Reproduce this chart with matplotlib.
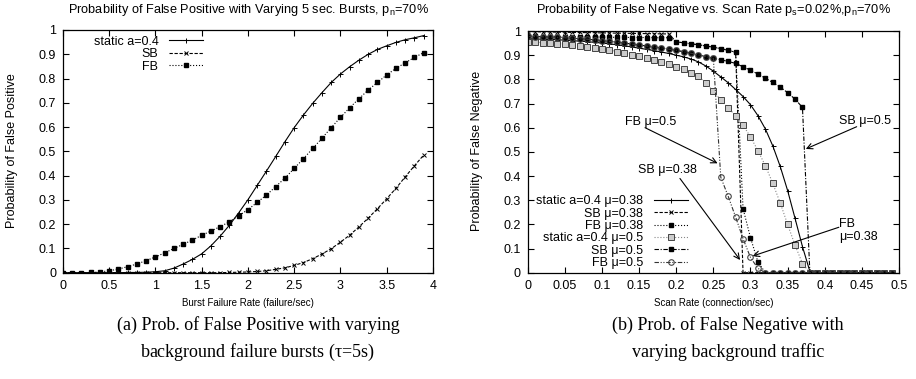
import numpy as np
import matplotlib
matplotlib.use('Agg')
import matplotlib.pyplot as plt
from matplotlib.ticker import MultipleLocator, FormatStrFormatter

plt.rcParams['font.family'] = ['Liberation Sans', 'DejaVu Sans']
plt.rcParams['mathtext.default'] = 'regular'

# (a) false positive vs burst failure rate
burst_rate = np.round(np.arange(0, 4.0, 0.1), 1)
fp_static = [0, 0, 0, 0, 0, 0, 0, 0.001, 0.001, 0.002,
             0.004, 0.008, 0.019, 0.036, 0.055, 0.078, 0.111, 0.151, 0.196, 0.247,
             0.301, 0.36, 0.419, 0.479, 0.54, 0.598, 0.65, 0.698, 0.742, 0.784,
             0.819, 0.849, 0.876, 0.9, 0.92, 0.935, 0.949, 0.96, 0.968, 0.977]
fp_sb = [0, 0, 0, 0, 0, 0, 0, 0, 0, 0,
         0, 0, 0, 0, 0, 0, 0, 0, 0.001, 0.002,
         0.003, 0.005, 0.008, 0.014, 0.02, 0.03, 0.042, 0.058, 0.077, 0.099,
         0.126, 0.155, 0.189, 0.225, 0.264, 0.305, 0.348, 0.395, 0.441, 0.485]
fp_fb = [0, 0, 0, 0.001, 0.003, 0.008, 0.015, 0.025, 0.036, 0.05,
         0.065, 0.082, 0.1, 0.117, 0.135, 0.154, 0.172, 0.19, 0.21, 0.235,
         0.26, 0.29, 0.32, 0.355, 0.39, 0.43, 0.47, 0.512, 0.554, 0.598,
         0.64, 0.68, 0.717, 0.753, 0.784, 0.815, 0.842, 0.865, 0.887, 0.907]

# (b) false negative vs scan rate
scan_rate = np.round(np.arange(0, 0.5, 0.01), 2)
fn_static_38 = [0.968, 0.967, 0.966, 0.965, 0.964, 0.962, 0.96, 0.958, 0.956, 0.953,
                0.95, 0.947, 0.943, 0.939, 0.934, 0.929, 0.924, 0.919, 0.913, 0.907,
                0.9, 0.893, 0.884, 0.872, 0.855, 0.834, 0.81, 0.786, 0.758, 0.729,
                0.695, 0.65, 0.595, 0.525, 0.44, 0.34, 0.225, 0.108, 0.005, 0,
                0, 0, 0, 0, 0, 0, 0, 0, 0, 0]
fn_sb_38 = [0.997, 0.997, 0.996, 0.996, 0.995, 0.995, 0.994, 0.994, 0.993, 0.993,
            0.992, 0.992, 0.991, 0.991, 0.99, 0.99, 0.989, 0.989, 0.988, 0.988,
            0.955, 0.951, 0.947, 0.943, 0.938, 0.933, 0.927, 0.92, 0.912, 0,
            0, 0, 0, 0, 0, 0, 0, 0, 0, 0,
            0, 0, 0, 0, 0, 0, 0, 0, 0, 0]
fn_fb_38 = [0.978, 0.978, 0.977, 0.977, 0.977, 0.976, 0.976, 0.976, 0.975, 0.975,
            0.975, 0.974, 0.974, 0.974, 0.973, 0.973, 0.973, 0.972, 0.972, 0.972,
            0.955, 0.951, 0.947, 0.943, 0.938, 0.933, 0.927, 0.92, 0.912, 0.265,
            0.145, 0.045, 0, 0, 0, 0, 0, 0, 0, 0,
            0, 0, 0, 0, 0, 0, 0, 0, 0, 0]
fn_static_5 = [0.955, 0.954, 0.952, 0.95, 0.948, 0.945, 0.942, 0.939, 0.935, 0.931,
               0.926, 0.921, 0.915, 0.909, 0.902, 0.895, 0.888, 0.88, 0.871, 0.862,
               0.852, 0.841, 0.828, 0.812, 0.785, 0.75, 0.715, 0.682, 0.65, 0.61,
               0.562, 0.505, 0.443, 0.37, 0.289, 0.2, 0.114, 0.038, 0, 0,
               0, 0, 0, 0, 0, 0, 0, 0, 0, 0]
fn_sb_5 = [0.978, 0.977, 0.976, 0.975, 0.974, 0.972, 0.97, 0.968, 0.966, 0.963,
           0.96, 0.957, 0.954, 0.95, 0.946, 0.942, 0.938, 0.934, 0.93, 0.925,
           0.92, 0.914, 0.908, 0.901, 0.894, 0.887, 0.881, 0.874, 0.866, 0.852,
           0.838, 0.822, 0.805, 0.787, 0.768, 0.745, 0.718, 0.684, 0, 0,
           0, 0, 0, 0, 0, 0, 0, 0, 0, 0]
fn_fb_5 = [0.978, 0.977, 0.976, 0.975, 0.974, 0.972, 0.97, 0.968, 0.966, 0.963,
           0.96, 0.957, 0.954, 0.95, 0.946, 0.942, 0.938, 0.934, 0.93, 0.925,
           0.92, 0.914, 0.908, 0.901, 0.894, 0.887, 0.395, 0.316, 0.23, 0.141,
           0.063, 0.018, 0, 0, 0, 0, 0, 0, 0, 0,
           0, 0, 0, 0, 0, 0, 0, 0, 0, 0]

fig = plt.figure(figsize=(9.16, 3.79), dpi=100)
W, H = 916.0, 379.0
ax1 = fig.add_axes([63 / W, 1 - 272.7 / H, 370 / W, 242.7 / H])
ax2 = fig.add_axes([527.7 / W, 1 - 272.7 / H, 371.3 / W, 241.7 / H])

fs = 9
lw = 0.8
ax1.plot(burst_rate, fp_static, '-', color='black', lw=lw, marker='+', ms=3.6, mew=0.7,
         label='static a=0.4')
ax1.plot(burst_rate, fp_sb, '--', color='black', lw=lw, dashes=(3, 1.5), marker='x', ms=3.2,
         mew=0.7, label='SB')
ax1.plot(burst_rate, fp_fb, ':', color='black', lw=lw, marker='s', ms=2.6, label='FB')

ax2.plot(scan_rate, fn_static_38, '-', color='black', lw=lw, marker='+', ms=3.6, mew=0.7,
         label='static a=0.4 \u03bc=0.38')
ax2.plot(scan_rate, fn_sb_38, '--', color='black', lw=lw, dashes=(3, 1.5), marker='x',
         ms=3.2, mew=0.7, label='SB \u03bc=0.38')
ax2.plot(scan_rate, fn_fb_38, ':', color='black', lw=lw, marker='s', ms=2.6,
         label='FB \u03bc=0.38')
ax2.plot(scan_rate, fn_static_5, ':', color='#888888', lw=lw, marker='s', ms=4,
         mfc='#cccccc', mec='#444444', mew=0.7, label='static a=0.4 \u03bc=0.5')
ax2.plot(scan_rate, fn_sb_5, '-.', color='black', lw=lw, dashes=(4, 1.5, 1, 1.5),
         marker='s', ms=3.2, label='SB \u03bc=0.5')
ax2.plot(scan_rate, fn_fb_5, '-', color='#333333', lw=lw, dashes=(4, 1.5, 1, 1.5, 1, 1.5),
         marker='o', ms=4, mfc='none', mec='#444444', mew=0.8, label='FB \u03bc=0.5')

for ax, xmax, xstep in ((ax1, 4, 0.5), (ax2, 0.5, 0.05)):
    ax.set_xlim(0, xmax)
    ax.set_ylim(0, 1)
    ax.xaxis.set_major_locator(MultipleLocator(xstep))
    ax.yaxis.set_major_locator(MultipleLocator(0.1))
    ax.xaxis.set_major_formatter(FormatStrFormatter('%g'))
    ax.yaxis.set_major_formatter(FormatStrFormatter('%g'))
    ax.tick_params(direction='in', top=True, right=True, length=4, width=0.8,
                   labelsize=fs, colors='black')
    ax.tick_params(axis='x', pad=5)
    ax.tick_params(axis='y', pad=5)
    for s in ax.spines.values():
        s.set_linewidth(0.9)

leg_opts = dict(frameon=False, fontsize=fs, markerfirst=False, handlelength=2.7,
                handletextpad=0.85, labelspacing=0.03, borderpad=0, borderaxespad=0,
                numpoints=1)
ax1.legend(loc='upper right', bbox_to_anchor=(0.378, 0.976), **leg_opts)
ax2.legend(loc='lower right', bbox_to_anchor=(0.431, 0.015), **leg_opts)

# labels with arrows on the scan-rate plot
arrow = dict(arrowstyle='->', lw=0.8, color='black', shrinkA=0, shrinkB=0)
ax2.text(0.131, 0.625, 'FB \u03bc=0.5', fontsize=fs, va='center')
ax2.annotate('', xy=(0.2557, 0.4526), xytext=(0.158, 0.60), arrowprops=arrow)
ax2.text(0.149, 0.425, 'SB \u03bc=0.38', fontsize=fs, va='center')
ax2.annotate('', xy=(0.286, 0.0525), xytext=(0.205, 0.39), arrowprops=arrow)
ax2.text(0.419, 0.629, 'SB \u03bc=0.5', fontsize=fs, va='center')
ax2.annotate('', xy=(0.3745, 0.512), xytext=(0.443, 0.604), arrowprops=arrow)
ax2.text(0.419, 0.2, 'FB', fontsize=fs, va='center')
ax2.text(0.419, 0.146, '\u03bc=0.38', fontsize=fs, va='center')
ax2.annotate('', xy=(0.303, 0.069), xytext=(0.419, 0.188), arrowprops=arrow)

# titles and axis labels
fig.text(248 / W, 1 - 10 / H, r'Probability of False Positive with Varying 5 sec. Bursts, $\mathregular{p_n}$=70%',
         ha='center', va='center', fontsize=9.2)
fig.text(713.4 / W, 1 - 10 / H, r'Probability of False Negative vs. Scan Rate $\mathregular{p_s}$=0.02%,$\mathregular{p_n}$=70%',
         ha='center', va='center', fontsize=9.2)
fig.text(12 / W, 1 - 151 / H, 'Probability of False Positive', rotation=90,
         ha='center', va='center', fontsize=fs)
fig.text(477 / W, 1 - 151 / H, 'Probability of False Negative', rotation=90,
         ha='center', va='center', fontsize=fs)
fig.text(248 / W, 1 - 303 / H, 'Burst Failure Rate (failure/sec)',
         ha='center', va='center', fontsize=7)
fig.text(713.4 / W, 1 - 303 / H, 'Scan Rate (connection/sec)',
         ha='center', va='center', fontsize=7)

serif = ['Liberation Serif', 'DejaVu Serif']
fig.text(258 / W, 1 - 325 / H, '(a) Prob. of False Positive with varying',
         ha='center', va='center', fontsize=13, family=serif)
fig.text(258 / W, 1 - 352 / H, r'background failure bursts ($\tau$=5s)',
         ha='center', va='center', fontsize=13, family=serif, math_fontfamily='stix')
fig.text(728 / W, 1 - 325 / H, '(b) Prob. of False Negative with',
         ha='center', va='center', fontsize=13, family=serif)
fig.text(728 / W, 1 - 352 / H, 'varying background traffic',
         ha='center', va='center', fontsize=13, family=serif)

fig.savefig('out.png', dpi=100)
